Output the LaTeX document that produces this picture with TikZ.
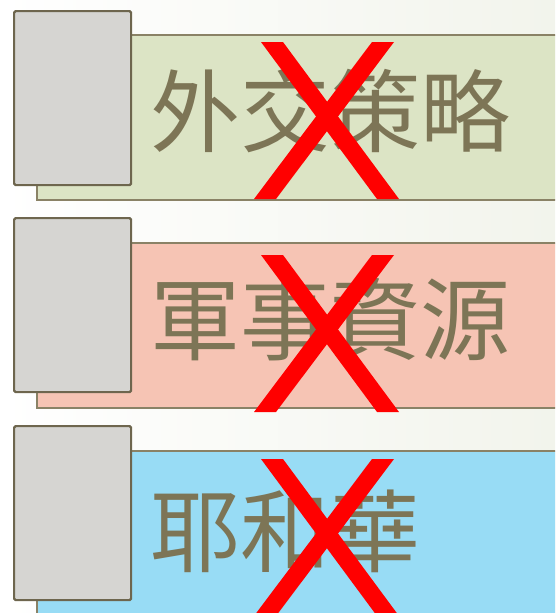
\documentclass[tikz,border=0pt]{standalone}
\usepackage{fontspec}
\newfontfamily\cjk{Noto Sans CJK TC}
\definecolor{bgL}{HTML}{FFFFFF}
\definecolor{bgR}{HTML}{F2F4EC}
\definecolor{boxfill}{HTML}{D6D5D2}
\definecolor{boxline}{HTML}{6E664E}
\definecolor{banline}{HTML}{8A8266}
\definecolor{txt}{HTML}{7D7556}
\definecolor{bgreen}{HTML}{DCE4C5}
\definecolor{bpink}{HTML}{F6C4B4}
\definecolor{bblue}{HTML}{98DCF5}
\definecolor{xred}{HTML}{FF0000}
\tikzset{
  banner/.style={draw=banline, line width=1.5pt, anchor=north west, inner sep=0pt, minimum width=530pt, minimum height=165pt},
  graybox/.style={draw=boxline, fill=boxfill, line width=2.2pt, rounded corners=1.5pt, anchor=north west, inner sep=0pt, minimum width=117pt, minimum height=174pt},
  label/.style={text=txt, anchor=base west, inner sep=0pt, font=\cjk\fontsize{90pt}{90pt}\selectfont},
  xstroke/.style={fill=xred, draw=none}
}
\begin{document}
\begin{tikzpicture}[x=1pt,y=-1pt]
\useasboundingbox (0,0) rectangle (555,613);
\clip (0,0) rectangle (555,613);
\shade[left color=bgL, right color=bgR] (0,0) rectangle (555,613);
% row 1
\node[banner, fill=bgreen] (ban1) at (36,34) {};
\node[graybox] (box1) at (13,10) {};
\node[label] (t1) at (150,145) {外交策略};
% row 2
\node[banner, fill=bpink] (ban2) at (36,242) {};
\node[graybox] (box2) at (13,217) {};
\node[label] (t2) at (150,353) {軍事資源};
% row 3
\node[banner, fill=bblue] (ban3) at (36,450) {};
\node[graybox] (box3) at (13,425) {};
\node[label] (t3) at (150,565) {耶和華};
% red crosses
\foreach \dy/\nm in {0/x1,213/x2,417/x3}{
  \begin{scope}[yshift=-\dy pt]
    \fill[xstroke] (261,42) -- (283,42) -- (399,199) -- (377,199) -- cycle;
    \fill[xstroke] (372,42) -- (394,42) -- (276,199) -- (254,199) -- cycle;
  \end{scope}
}
\end{tikzpicture}
\end{document}
